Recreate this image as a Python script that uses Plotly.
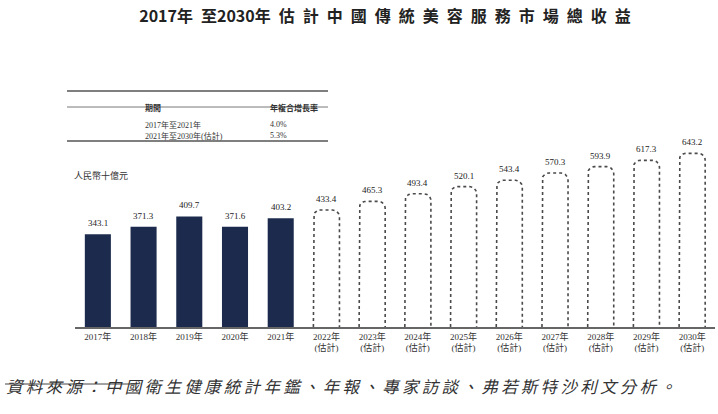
import numpy as np
import plotly.graph_objects as go

years = ["2017", "2018", "2019", "2020", "2021", "2022", "2023", "2024",
         "2025", "2026", "2027", "2028", "2029", "2030"]
values = [343.1, 371.3, 409.7, 371.6, 403.2, 433.4, 465.3, 493.4,
          520.1, 543.4, 570.3, 593.9, 617.3, 643.2]
is_forecast = [False] * 5 + [True] * 9

title_parts = ["2017年", "至2030年", "估", "計", "中", "國", "傳", "統", "美", "容", "服", "務", "市", "場", "總", "收", "益"]
unit_text = "人民幣十億元"
source_text = "資料來源：中國衛生健康統計年鑑、年報、專家訪談、弗若斯特沙利文分析。"
table_header = ["期間", "年複合增長率"]
table_periods = ["2017年至2021年", "2021年至2030年(估計)"]
table_cagr = ["4.0%", "5.3%"]

tick_labels = [f"{y}年<br>(估計)" if f else f"{y}年" for y, f in zip(years, is_forecast)]
title_text = "\u2002".join(title_parts)
source_spaced = "\u2009".join(list(source_text))

SERIF = "Liberation Serif, 'Noto Sans CJK TC', serif"
SANS = "'Noto Sans CJK TC', sans-serif"
NAVY = "#1c2b4d"

W, H = 718, 414
ml, mr, mt, mb = 75, 3, 60, 87
xr = [-0.5, 13.5]
yr = [0, 989]
px_x = (W - ml - mr) / (xr[1] - xr[0])
px_y = (H - mt - mb) / (yr[1] - yr[0])
bw = 0.57

fig = go.Figure()

xs_act = [i for i, f in enumerate(is_forecast) if not f]
ys_act = [values[i] for i in xs_act]
fig.add_trace(go.Bar(x=xs_act, y=ys_act, width=bw, marker=dict(color=NAVY, line=dict(width=0)),
                     showlegend=False, hoverinfo="skip"))

# dotted rounded outlines for forecasts
r_px = 7
rx, ry = r_px / px_x, r_px / px_y
th = np.linspace(0, np.pi / 2, 8)
for i, f in enumerate(is_forecast):
    if not f:
        continue
    v = values[i]
    L, R = i - bw / 2, i + bw / 2
    xs = [L, L]
    ys = [0, v - ry]
    xs += list(L + rx - rx * np.cos(th))
    ys += list(v - ry + ry * np.sin(th))
    xs += list(R - rx + rx * np.sin(th))
    ys += list(v - ry + ry * np.cos(th))
    xs += [R, R]
    ys += [v - ry, 0]
    fig.add_trace(go.Scatter(x=xs, y=ys, mode="lines",
                             line=dict(color="#4a4a4a", width=1.6, dash="dot"),
                             showlegend=False, hoverinfo="skip"))

shapes = []
annotations = []

# value labels
for i, v in enumerate(values):
    annotations.append(dict(x=i, y=v, xref="x", yref="y", text=f"{v:.1f}", showarrow=False,
                            yanchor="bottom", yshift=4,
                            font=dict(family=SERIF, size=9, color="#222222")))

fig.update_xaxes(range=xr, tickmode="array", tickvals=list(range(len(years))), ticktext=tick_labels,
                 showline=True, linecolor="#666666", linewidth=1.5, showgrid=False, zeroline=False,
                 ticks="", tickfont=dict(family=SERIF, size=9, color="#333333"))
fig.update_yaxes(range=yr, visible=False, showgrid=False, zeroline=False)


def px2paper_x(x):
    return (x - ml) / (W - ml - mr)

def px2paper_y(y):
    return (H - mb - y) / (H - mt - mb)

# table
tl, tr = 67, 328
for y, w in [(91, 1.5), (107, 0.8), (141, 1.5)]:
    shapes.append(dict(type="line", xref="paper", yref="paper",
                       x0=px2paper_x(tl), x1=px2paper_x(tr), y0=px2paper_y(y), y1=px2paper_y(y),
                       line=dict(color="#555555", width=w)))
col_x = [143, 268]
for cx, t in zip(col_x, table_header):
    annotations.append(dict(text=f"<b>{t}</b>", x=px2paper_x(cx), y=px2paper_y(100), xref="paper", yref="paper",
                            showarrow=False, font=dict(family=SANS, size=8, color="#333333")))
for k, (p, c) in enumerate(zip(table_periods, table_cagr)):
    yy = px2paper_y(118 + k * 11)
    annotations.append(dict(text=p, x=px2paper_x(col_x[0]), y=yy, xref="paper", yref="paper",
                            showarrow=False, font=dict(family=SERIF, size=8, color="#333333")))
    annotations.append(dict(text=c, x=px2paper_x(col_x[1]), y=yy, xref="paper", yref="paper",
                            showarrow=False, font=dict(family=SERIF, size=8, color="#333333")))

# unit label
annotations.append(dict(text=unit_text, x=px2paper_x(72), y=px2paper_y(175), xref="paper", yref="paper",
                        xanchor="left", showarrow=False, font=dict(family=SANS, size=9, color="#333333")))

# source line and text
shapes.append(dict(type="line", xref="paper", yref="paper",
                   x0=px2paper_x(5), x1=px2paper_x(135), y0=px2paper_y(384), y1=px2paper_y(384),
                   line=dict(color="#444444", width=1)))
annotations.append(dict(text=f"<i>{source_spaced}</i>", x=px2paper_x(4), y=px2paper_y(400),
                        xref="paper", yref="paper", xanchor="left", showarrow=False,
                        font=dict(family=SANS, size=16.5, color="#333333")))

fig.update_layout(
    width=W, height=H,
    margin=dict(l=ml, r=mr, t=mt, b=mb),
    paper_bgcolor="white", plot_bgcolor="white",
    title=dict(text=f"<b>{title_text}</b>", x=385 / W, xanchor="center", y=1 - 16 / H, yanchor="middle",
               font=dict(family=SANS, size=16, color="#222222")),
    shapes=shapes, annotations=annotations,
)

fig.write_html("out.html", config={"displayModeBar": False},
               post_script="document.body.style.margin='0px';document.body.style.overflow='hidden';")
